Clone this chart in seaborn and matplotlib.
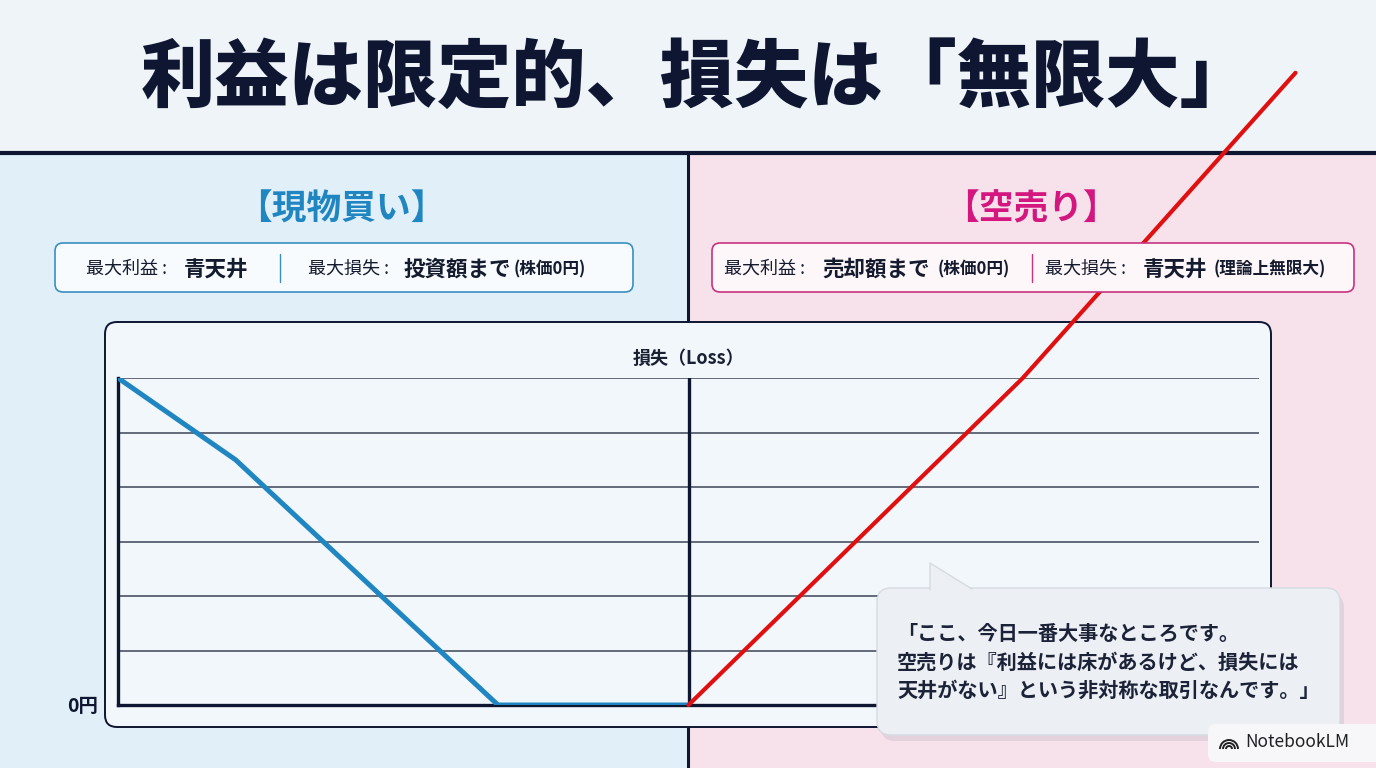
import pandas as pd
import seaborn as sns
import matplotlib.pyplot as plt
from matplotlib.patches import FancyBboxPatch, Rectangle, Polygon, Arc

sns.set_theme(style="white")
plt.rcParams['font.family'] = ['Noto Sans CJK JP', 'DejaVu Sans']

# --- data (x = price axis 0..100, y = loss in grid steps) ---
spot_price = [0, 10.3, 33.3, 50]
spot_loss = [6, 4.5, 0, 0]
short_price = [50, 79.3, 103.2]
short_loss = [0, 6, 11.6]
grid_levels = [1, 2, 3, 4, 5, 6]

title = "利益は限定的、損失は「無限大」"
left_head = "【現物買い】"
right_head = "【空売り】"
chart_title = "損失（Loss）"
zero_label = "0円"
bubble_text = ("「ここ、今日一番大事なところです。\n"
               "空売りは『利益には床があるけど、損失には\n"
               "天井がない』という非対称な取引なんです。」")

W, H = 1376, 768
NAVY = '#0e1632'
BLUE = '#1f86c2'
PINK = '#d3177f'

fig = plt.figure(figsize=(W / 100, H / 100), dpi=100)

# background layer in pixel coordinates
bg = fig.add_axes([0, 0, 1, 1], zorder=0)
bg.set_xlim(0, W)
bg.set_ylim(H, 0)
bg.axis('off')
bg.add_patch(Rectangle((0, 0), W, 153, color='#eff4f9', zorder=0))
bg.add_patch(Rectangle((0, 153), 688, H - 153, color='#e1eff8', zorder=0))
bg.add_patch(Rectangle((688, 153), W - 688, H - 153, color='#f7e1eb', zorder=0))
bg.plot([0, W], [153, 153], color=NAVY, lw=3, zorder=1)
bg.plot([688, 688], [153, H], color=NAVY, lw=2.2, zorder=1)
bg.add_patch(FancyBboxPatch((105, 322), 1166, 405, boxstyle='round,pad=0,rounding_size=12',
                            facecolor='#f2f7fb', edgecolor=NAVY, lw=1.4, zorder=3))

# chart axes
ax = fig.add_axes([118 / W, 1 - 705 / H, (1259 - 118) / W, (705 - 378) / H], zorder=2)
ax.patch.set_alpha(0)
for lv in grid_levels:
    ax.axhline(lv, color='#3c4456', lw=1.1, zorder=0)
ax.axvline(50, color=NAVY, lw=2.4, zorder=1)
spot = pd.DataFrame({'price': spot_price, 'loss': spot_loss})
short = pd.DataFrame({'price': short_price, 'loss': short_loss})
sns.lineplot(data=spot, x='price', y='loss', ax=ax, color=BLUE, lw=3.6,
             solid_capstyle='round', zorder=3)
sns.lineplot(data=short, x='price', y='loss', ax=ax, color='#e01010', lw=3.0,
             solid_capstyle='round', clip_on=False, zorder=3)
ax.set_xlim(0, 100)
ax.set_ylim(0, 6)
ax.set_xticks([])
ax.set_yticks([0])
ax.set_yticklabels([zero_label], fontsize=14, weight='bold', color=NAVY)
ax.tick_params(axis='y', length=0, pad=14)
ax.set_xlabel('')
ax.set_ylabel('')
for s in ['top', 'right']:
    ax.spines[s].set_visible(False)
for s in ['left', 'bottom']:
    ax.spines[s].set_color(NAVY)
    ax.spines[s].set_linewidth(2.4)
ax.set_title(chart_title, fontsize=13, weight='bold', color='#1a2034', pad=10)

# overlay layer: titles, info boxes, speech bubble
ov = fig.add_axes([0, 0, 1, 1], zorder=3)
ov.set_xlim(0, W)
ov.set_ylim(H, 0)
ov.axis('off')
ov.patch.set_alpha(0)

ov.text(698, 79, title, ha='center', va='center', fontsize=53.5, weight='heavy', color=NAVY)
ov.text(341, 209, left_head, ha='center', va='center', fontsize=25, weight='bold', color=BLUE)
ov.text(1031, 209, right_head, ha='center', va='center', fontsize=25, weight='bold', color=PINK)

ov.add_patch(FancyBboxPatch((55, 243), 578, 49, boxstyle='round,pad=0,rounding_size=8',
                            facecolor='#f7fbfd', edgecolor='#3b8fbf', lw=1.2))
ov.add_patch(FancyBboxPatch((712, 243), 642, 49, boxstyle='round,pad=0,rounding_size=8',
                            facecolor='#fdf7fa', edgecolor='#c8337f', lw=1.2))
ov.plot([280, 280], [254, 282], color='#3b8fbf', lw=1.0)
ov.plot([1032, 1032], [254, 282], color='#c8337f', lw=1.0)

left_parts = [(86, "最大利益 :", 13, 'normal'), (184, "青天井", 15.5, 'bold'),
              (308, "最大損失 :", 13, 'normal'), (404, "投資額まで", 15.5, 'bold'),
              (514, "(株価0円)", 12, 'bold')]
right_parts = [(724, "最大利益 :", 13, 'normal'), (822, "売却額まで", 15.5, 'bold'),
               (938, "(株価0円)", 12, 'bold'), (1045, "最大損失 :", 13, 'normal'),
               (1143, "青天井", 15.5, 'bold'), (1214, "(理論上無限大)", 12, 'bold')]
for x, txt, fs, wt in left_parts + right_parts:
    ov.text(x, 269, txt, ha='left', va='center', fontsize=fs, weight=wt, color='#151b2e')

# speech bubble with soft shadow
ov.add_patch(FancyBboxPatch((881, 594), 463, 147, boxstyle='round,pad=0,rounding_size=14',
                            facecolor='#8a909c', edgecolor='none', alpha=0.18))
ov.add_patch(FancyBboxPatch((877, 588), 463, 147, boxstyle='round,pad=0,rounding_size=14',
                            facecolor='#eceff3', edgecolor='#d6dae2', lw=1.0))
ov.add_patch(Polygon([(930, 590), (930, 563), (972, 590)], closed=True,
                     facecolor='#eceff3', edgecolor='none'))
ov.plot([930, 930, 972], [590, 563, 589], color='#d6dae2', lw=1.0)
ov.text(897, 662, bubble_text, ha='left', va='center', fontsize=14.5, weight='bold',
        color='#1c2238', linespacing=1.45)

# NotebookLM badge with a small arc logo
ov.add_patch(FancyBboxPatch((1208, 724), 180, 38, boxstyle='round,pad=0,rounding_size=8',
                            facecolor='#f7f7f9', edgecolor='none'))
for r in [3, 6, 9]:
    ov.add_patch(Arc((1229, 749), 2 * r, 2 * r, theta1=180, theta2=360, color='#202124', lw=1.4))
ov.text(1245, 742, "NotebookLM", ha='left', va='center', fontsize=12.5, color='#202124')

fig.savefig('out.png', dpi=100)
